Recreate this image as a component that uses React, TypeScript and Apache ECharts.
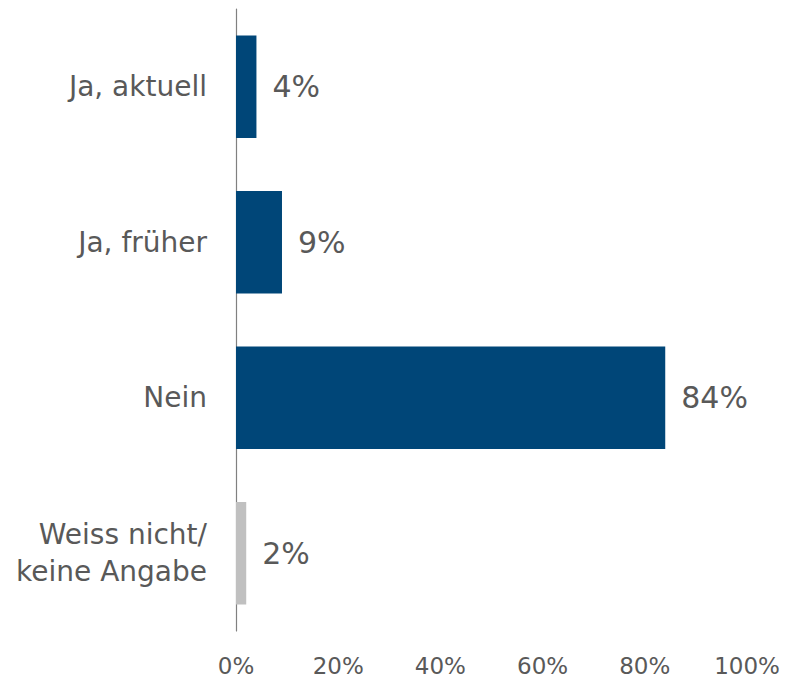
import React, { useEffect, useRef } from "react";
import * as echarts from "echarts";

const categories = ["Ja, aktuell", "Ja, früher", "Nein", "Weiss nicht/\nkeine Angabe"];
const values = [4, 9, 84, 2];
const barColors = ["#004678", "#004678", "#004678", "#C0C0C0"];
const xTicks = [0, 20, 40, 60, 80, 100];

export default function App() {
  const ref = useRef<HTMLDivElement>(null);
  useEffect(() => {
    if (!ref.current) return;
    const chart = echarts.init(ref.current, null, { renderer: "svg" });
    const font = "'DejaVu Sans', Verdana, sans-serif";
    chart.setOption({
      animation: false,
      grid: { left: 236, right: 39, top: 9, bottom: 50, containLabel: false },
      xAxis: {
        type: "value",
        min: xTicks[0],
        max: xTicks[xTicks.length - 1],
        interval: 20,
        axisLine: { show: false },
        axisTick: { show: false },
        splitLine: { show: false },
        axisLabel: {
          formatter: "{value}%",
          color: "#595959",
          fontSize: 23,
          fontFamily: font,
          margin: 23,
        },
      },
      yAxis: {
        type: "category",
        data: categories,
        inverse: true,
        axisLine: { show: true, lineStyle: { color: "#808080", width: 1.2 } },
        axisTick: { show: false },
        axisLabel: {
          color: "#595959",
          fontSize: 28,
          fontFamily: font,
          margin: 29,
          lineHeight: 37,
          align: "right",
        },
      },
      series: [
        {
          type: "bar",
          barWidth: "66%",
          data: values.map((v, i) => ({ value: v, itemStyle: { color: barColors[i] } })),
          label: {
            show: true,
            position: "right",
            distance: 16,
            formatter: "{c}%",
            color: "#595959",
            fontSize: 30,
            fontFamily: font,
          },
        },
      ],
    });
    return () => chart.dispose();
  }, []);
  return (
    <div
      ref={ref}
      style={{ position: "absolute", left: 0, top: 0, width: 786, height: 681, background: "#ffffff" }}
    />
  );
}
